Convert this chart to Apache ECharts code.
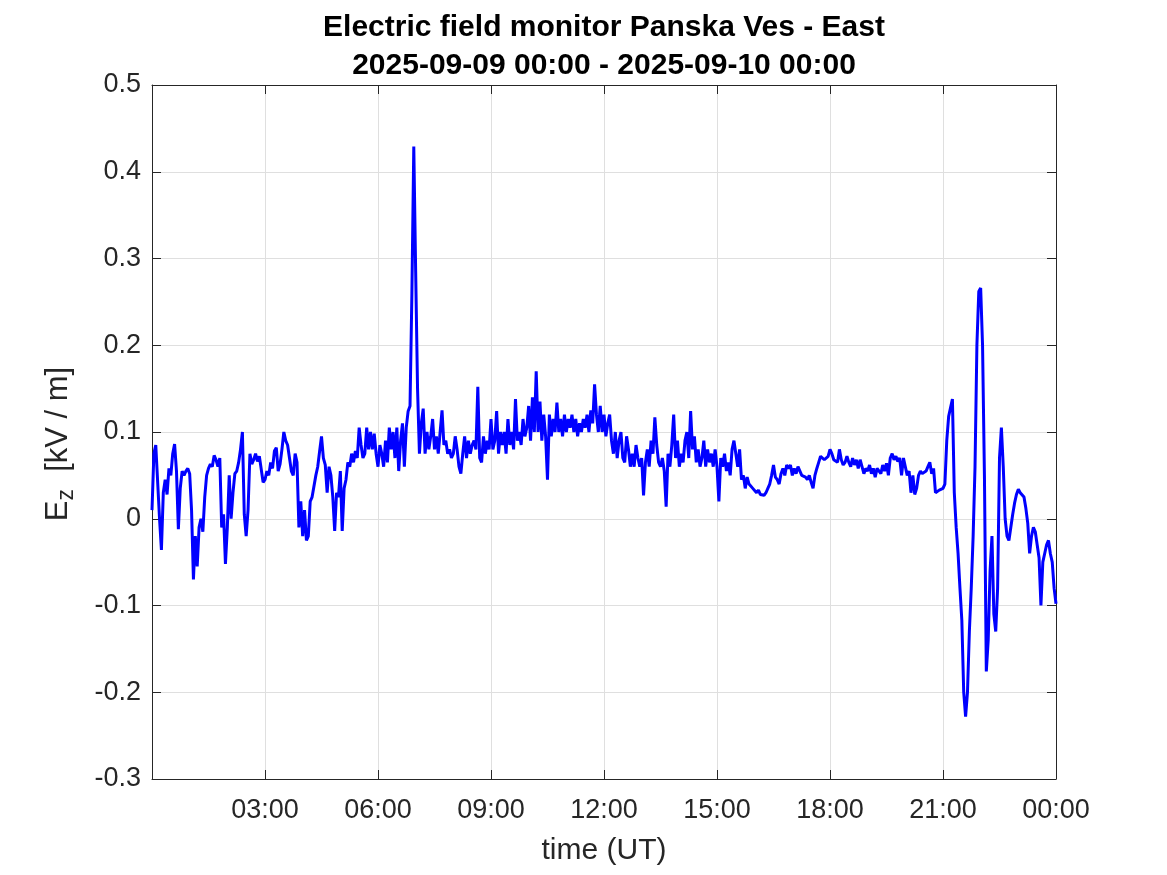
<!DOCTYPE html>
<html>
<head>
<meta charset="utf-8">
<script src="https://cdn.jsdelivr.net/npm/echarts@6/dist/echarts.min.js"></script>
<style>
html,body{margin:0;padding:0;background:#fff;}
#chart{width:1167px;height:875px;}
</style>
</head>
<body>
<div id="chart"></div>
<script>
// Sampling step of the trace (hours)
const sampleStepHours = 0.05;
const titleLine1 = 'Electric field monitor Panska Ves - East';
const titleLine2 = '2025-09-09 00:00 - 2025-09-10 00:00';
const xTickHours = [0, 3, 6, 9, 12, 15, 18, 21, 24];
const yTicks = [-0.3, -0.2, -0.1, 0, 0.1, 0.2, 0.3, 0.4, 0.5];

// E_z [kV/m], 20 samples per hour
const ez00to04 = [
  0.01,0.075,0.085,0.083,0.0,-0.036,0.03,0.045,0.028,0.058,0.05,0.075,0.086,0.055,-0.012,0.035,0.055,0.05,0.055,0.058,
  0.052,0.01,-0.07,-0.02,-0.055,-0.01,0.0,-0.015,0.025,0.05,0.058,0.063,0.06,0.073,0.068,0.06,0.07,-0.01,0.005,-0.052,
  -0.01,0.05,0.0,0.03,0.052,0.055,0.065,0.08,0.1,0.005,-0.02,0.01,0.075,0.063,0.068,0.075,0.066,0.072,0.07,0.042,
  0.045,0.055,0.05,0.065,0.058,0.078,0.082,0.055,0.063,0.08,0.1,0.09,0.085,0.07,0.055,0.05,0.075,0.065,-0.01,0.02
];
const ez04to08 = [
  -0.02,0.01,-0.025,-0.02,0.02,0.025,0.026,0.05,0.06,0.078,0.095,0.07,0.062,0.03,0.06,0.05,0.025,-0.014,0.03,0.025,
  0.055,-0.014,0.035,0.045,0.065,0.06,0.075,0.065,0.078,0.07,0.105,0.085,0.07,0.075,0.105,0.08,0.1,0.08,0.098,0.075,
  0.06,0.085,0.075,0.06,0.09,0.065,0.105,0.08,0.1,0.07,0.105,0.055,0.09,0.11,0.06,0.105,0.124,0.13,0.26,0.429,
  0.285,0.15,0.075,0.11,0.127,0.075,0.1,0.08,0.095,0.115,0.08,0.095,0.075,0.1,0.125,0.085,0.09,0.075,0.08,0.07
];
const ez08to12 = [
  0.075,0.095,0.08,0.06,0.052,0.075,0.095,0.07,0.09,0.075,0.085,0.09,0.08,0.152,0.07,0.065,0.095,0.075,0.09,0.08,
  0.115,0.08,0.09,0.124,0.075,0.1,0.085,0.1,0.075,0.115,0.085,0.1,0.08,0.138,0.09,0.1,0.085,0.115,0.095,0.105,
  0.13,0.09,0.14,0.1,0.17,0.1,0.135,0.09,0.12,0.095,0.045,0.12,0.095,0.115,0.1,0.134,0.1,0.115,0.095,0.12,
  0.1,0.115,0.105,0.12,0.1,0.115,0.095,0.11,0.1,0.115,0.105,0.12,0.1,0.125,0.11,0.155,0.12,0.1,0.13,0.1
];
const ez12to16 = [
  0.12,0.095,0.11,0.12,0.09,0.075,0.1,0.07,0.09,0.1,0.07,0.065,0.095,0.08,0.06,0.075,0.06,0.085,0.07,0.06,
  0.07,0.027,0.065,0.08,0.06,0.09,0.075,0.117,0.085,0.065,0.06,0.07,0.055,0.014,0.075,0.06,0.085,0.12,0.07,0.09,
  0.06,0.075,0.065,0.09,0.1,0.07,0.124,0.08,0.095,0.065,0.08,0.06,0.07,0.09,0.06,0.08,0.065,0.075,0.06,0.08,
  0.06,0.02,0.07,0.06,0.075,0.055,0.065,0.05,0.08,0.09,0.075,0.06,0.08,0.045,0.05,0.035,0.048,0.04,0.04,0.035
];
const ez16to20 = [
  0.035,0.03,0.033,0.028,0.03,0.027,0.03,0.035,0.04,0.05,0.062,0.048,0.045,0.04,0.052,0.058,0.05,0.062,0.058,0.062,
  0.05,0.058,0.052,0.06,0.062,0.05,0.052,0.048,0.045,0.05,0.042,0.035,0.05,0.058,0.065,0.072,0.07,0.068,0.07,0.072,
  0.08,0.075,0.068,0.07,0.065,0.08,0.068,0.062,0.065,0.072,0.065,0.06,0.07,0.062,0.068,0.058,0.068,0.06,0.052,0.058,
  0.055,0.062,0.052,0.058,0.048,0.058,0.06,0.052,0.062,0.055,0.064,0.05,0.07,0.075,0.068,0.072,0.066,0.07,0.05,0.07
];
const ez20to24 = [
  0.06,0.05,0.055,0.03,0.05,0.028,0.035,0.05,0.055,0.052,0.05,0.055,0.06,0.065,0.052,0.058,0.03,0.028,0.033,0.032,
  0.035,0.04,0.09,0.118,0.12,0.138,0.03,-0.01,-0.04,-0.08,-0.117,-0.2,-0.228,-0.2,-0.13,-0.08,-0.02,0.06,0.2,0.262,
  0.266,0.2,0.05,-0.176,-0.14,-0.06,-0.02,-0.11,-0.13,-0.08,0.07,0.105,0.06,0.0,-0.02,-0.025,-0.01,0.005,0.018,0.028,
  0.034,0.03,0.028,0.025,0.012,-0.005,-0.04,-0.02,-0.01,-0.015,-0.03,-0.045,-0.1,-0.05,-0.04,-0.03,-0.025,-0.04,-0.05,-0.08,
  -0.098
];

const ez = [].concat(ez00to04, ez04to08, ez08to12, ez12to16, ez16to20, ez20to24);
const seriesData = ez.map((v, i) => [i * sampleStepHours, v]);

const FONT = 'Liberation Sans, Arial, Helvetica, sans-serif';
const AX = '#262626';
const GRID = '#dfdfdf';

function fmtHour(h) {
  if (h === 0) return '';
  const hh = h % 24;
  return (hh < 10 ? '0' : '') + hh + ':00';
}
function fmtY(v) {
  const r = Math.round(v * 10) / 10;
  return r === 0 ? '0' : String(r);
}

const chart = echarts.init(document.getElementById('chart'), null, {renderer: 'canvas'});
const option = {
  animation: false,
  backgroundColor: '#ffffff',
  title: [
    {text: titleLine1, left: 604, top: 13, textAlign: 'center', padding: 0,
     textStyle: {fontFamily: FONT, fontWeight: 'bold', fontSize: 30, color: '#000'}},
    {text: titleLine2, left: 604, top: 51, textAlign: 'center', padding: 0,
     textStyle: {fontFamily: FONT, fontWeight: 'bold', fontSize: 30, color: '#000'}}
  ],
  graphic: [{
    type: 'text', x: 58, y: 444, rotation: Math.PI / 2, silent: true,
    style: {
      text: '{e|E}{s|z}{n|  [kV / m]}',
      align: 'center', verticalAlign: 'middle',
      fill: AX, font: '31px ' + FONT,
      rich: {
        e: {fontFamily: FONT, fontSize: 31, fill: AX, lineHeight: 40, verticalAlign: 'middle'},
        s: {fontFamily: FONT, fontSize: 23, fill: AX, lineHeight: 40, verticalAlign: 'bottom'},
        n: {fontFamily: FONT, fontSize: 31, fill: AX, lineHeight: 40, verticalAlign: 'middle'}
      }
    }
  }],
  grid: {left: 152, right: 111, top: 85, bottom: 96, containLabel: false},
  xAxis: [
    {
      type: 'value', min: 0, max: 24, interval: 3,
      axisLine: {show: true, onZero: false, lineStyle: {color: AX, width: 1}},
      axisTick: {show: true, inside: true, length: 9, lineStyle: {color: AX}},
      axisLabel: {formatter: fmtHour, fontFamily: FONT, fontSize: 27, color: AX, margin: 18,
                  showMinLabel: true, showMaxLabel: true},
      splitLine: {show: true, lineStyle: {color: GRID, width: 1}},
      name: 'time (UT)', nameLocation: 'middle', nameGap: 57,
      nameTextStyle: {fontFamily: FONT, fontSize: 30, color: AX}
    },
    {
      type: 'value', position: 'top', min: 0, max: 24, interval: 3,
      axisLine: {show: true, onZero: false, lineStyle: {color: AX, width: 1}},
      axisTick: {show: true, inside: true, length: 9, lineStyle: {color: AX}},
      axisLabel: {show: false}, splitLine: {show: false}
    }
  ],
  yAxis: [
    {
      type: 'value', min: -0.3, max: 0.5, interval: 0.1,
      axisLine: {show: true, onZero: false, lineStyle: {color: AX, width: 1}},
      axisTick: {show: true, inside: true, length: 9, lineStyle: {color: AX}},
      axisLabel: {formatter: fmtY, fontFamily: FONT, fontSize: 27, color: AX, margin: 11,
                  showMinLabel: true, showMaxLabel: true},
      splitLine: {show: true, lineStyle: {color: GRID, width: 1}}
    },
    {
      type: 'value', position: 'right', min: -0.3, max: 0.5, interval: 0.1,
      axisLine: {show: true, onZero: false, lineStyle: {color: AX, width: 1}},
      axisTick: {show: true, inside: true, length: 9, lineStyle: {color: AX}},
      axisLabel: {show: false}, splitLine: {show: false}
    }
  ],
  series: [{
    type: 'line', xAxisIndex: 0, yAxisIndex: 0,
    data: seriesData, showSymbol: false, symbol: 'none',
    lineStyle: {color: '#0000ff', width: 3}, smooth: false
  }]
};
chart.setOption(option);
</script>
</body>
</html>
